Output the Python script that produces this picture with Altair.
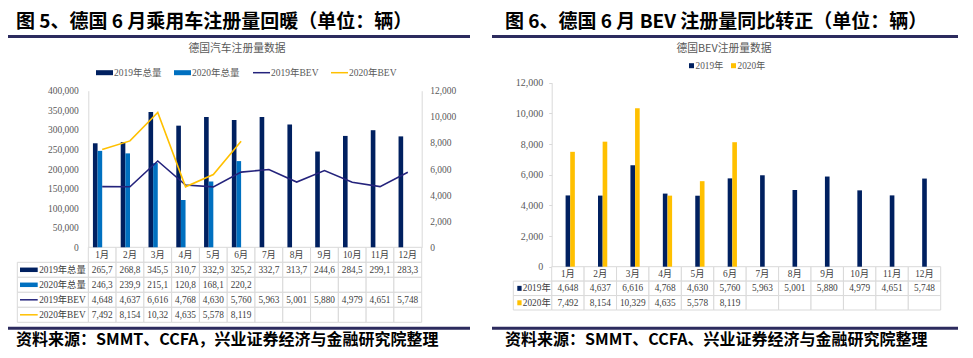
import altair as alt
import pandas as pd

# ---------------- data ----------------
months = [f"{i}月" for i in range(1, 13)]
total_2019 = [265700, 268800, 345500, 310700, 332900, 325200, 332700, 313700, 244600, 284500, 299100, 283300]
total_2020 = [246300, 239900, 215100, 120800, 168100, 220200]
bev_2019 = [4648, 4637, 6616, 4768, 4630, 5760, 5963, 5001, 5880, 4979, 4651, 5748]
bev_2020 = [7492, 8154, 10329, 4635, 5578, 8119]

left_series = ["2019年总量", "2020年总量", "2019年BEV", "2020年BEV"]
right_series = ["2019年", "2020年"]
left_ticks = list(range(0, 400001, 50000))
right_ticks = list(range(0, 12001, 2000))
bev_ticks = list(range(0, 12001, 2000))

title_left = "图 5、德国 6 月乘用车注册量回暖（单位：辆）"
title_right = "图 6、德国 6 月 BEV 注册量同比转正（单位：辆）"
sub_left = "德国汽车注册量数据"
sub_right = "德国BEV注册量数据"
src_left = "资料来源：SMMT、CCFA，兴业证券经济与金融研究院整理"
src_right = "资料来源：SMMT、CCFA、兴业证券经济与金融研究院整理"

# ---------------- style ----------------
W, H = 957, 342
NAVY = "#002060"
BLUE = "#0070C0"
LINE19 = "#24237C"
YELLOW = "#FFC000"
GRID = "#D9D9D9"
TXT = "#595959"
TAB = "#404040"
RULE = "#2C2B5E"
SERIF = "Liberation Serif, Noto Sans CJK SC"
CJK = "Noto Sans CJK SC"

one = pd.DataFrame({"a": [0]})


def txt(s, x, y, size, font=CJK, weight="normal", color="black", align="left"):
    return alt.Chart(one).mark_text(
        text=s, font=font, fontSize=size, fontWeight=weight, color=color,
        align=align, baseline="middle"
    ).encode(x=alt.value(x), y=alt.value(y))


def hrule(x1, x2, y, color, sw):
    return alt.Chart(one).mark_rule(color=color, strokeWidth=sw).encode(
        x=alt.value(x1), x2=alt.value(x2), y=alt.value(y))


def fmt(v):
    return f"{v:,}"


# ================= LEFT PANEL =================
LX = [80.3, 413.7]
LY = [239.3, 82.7]
lx = alt.Scale(domain=months, range=LX, paddingInner=0, paddingOuter=0)

bars_l = pd.DataFrame(
    [{"month": m, "series": "2019年总量", "value": v} for m, v in zip(months, total_2019)]
    + [{"month": m, "series": "2020年总量", "value": v} for m, v in zip(months, total_2020)]
)
lines_l = pd.DataFrame(
    [{"month": m, "series": "2019年BEV", "value": v} for m, v in zip(months, bev_2019)]
    + [{"month": m, "series": "2020年BEV", "value": v} for m, v in zip(months, bev_2020)]
)

axis_common = dict(grid=False, title=None, labelFont=SERIF, labelFontSize=9.5,
                   labelColor=TXT, domainColor=GRID, tickColor=GRID, format=",d")

l_bars = alt.Chart(bars_l).mark_bar().encode(
    x=alt.X("month:N", scale=lx, axis=None),
    xOffset=alt.XOffset("series:N", scale=alt.Scale(domain=left_series[:2], paddingInner=0, paddingOuter=1)),
    y=alt.Y("value:Q", scale=alt.Scale(domain=[0, 400000], range=LY, nice=False),
            axis=alt.Axis(orient="left", offset=-LX[0], values=left_ticks, ticks=False,
                          labelPadding=10, **axis_common)),
    color=alt.Color("series:N", scale=alt.Scale(domain=left_series[:2], range=[NAVY, BLUE]), legend=None),
)
l_lines = alt.Chart(lines_l).mark_line(strokeWidth=1.6).encode(
    x=alt.X("month:N", scale=lx, axis=None),
    y=alt.Y("value:Q", scale=alt.Scale(domain=[0, 12000], range=LY, nice=False),
            axis=alt.Axis(orient="right", offset=-(W - LX[1]), values=bev_ticks, ticks=False,
                          labelPadding=8, **axis_common)),
    color=alt.Color("series:N", scale=alt.Scale(domain=left_series[2:], range=[LINE19, YELLOW]), legend=None),
)
left_plot = alt.layer(l_bars, l_lines).resolve_scale(y="independent", color="independent")

# table
l_rows = ["cat"] + left_series
lrow = alt.Scale(domain=l_rows, range=[239.3, 314.3], paddingInner=0, paddingOuter=0)
cells_l = pd.DataFrame([{"month": m, "row": r} for m in months for r in l_rows])
vals_l = []
for i, m in enumerate(months):
    vals_l.append({"month": m, "row": "cat", "label": m})
    vals_l.append({"month": m, "row": "2019年总量", "label": fmt(total_2019[i])[:5]})
    if i < len(total_2020):
        vals_l.append({"month": m, "row": "2020年总量", "label": fmt(total_2020[i])[:5]})
    vals_l.append({"month": m, "row": "2019年BEV", "label": fmt(bev_2019[i])[:5]})
    if i < len(bev_2020):
        vals_l.append({"month": m, "row": "2020年BEV", "label": fmt(bev_2020[i])[:5]})
vals_l = pd.DataFrame(vals_l)
labels_l = pd.DataFrame({"row": left_series})

l_cells = alt.Chart(cells_l).mark_rect(fill="white", stroke=GRID, strokeWidth=1).encode(
    x=alt.X("month:N", scale=lx, axis=None), y=alt.Y("row:N", scale=lrow, axis=None))
l_lcells = alt.Chart(labels_l).mark_rect(fill="white", stroke=GRID, strokeWidth=1).encode(
    x=alt.value(9.3), x2=alt.value(LX[0]), y=alt.Y("row:N", scale=lrow, axis=None))
l_text = alt.Chart(vals_l).mark_text(font=SERIF, fontSize=9.3, color=TAB, baseline="middle").encode(
    x=alt.X("month:N", scale=lx, axis=None), y=alt.Y("row:N", scale=lrow, axis=None), text="label:N")
l_rlab = alt.Chart(labels_l).mark_text(font=SERIF, fontSize=9.3, color=TAB, align="right", baseline="middle").encode(
    x=alt.value(77.7), y=alt.Y("row:N", scale=lrow, axis=None), text="row:N")
l_syms = []
for s, c, sw in zip(left_series, [NAVY, BLUE, LINE19, YELLOW], [4.5, 4.5, 1.5, 1.5]):
    l_syms.append(alt.Chart(pd.DataFrame({"row": [s]})).mark_rule(color=c, strokeWidth=sw).encode(
        y=alt.Y("row:N", scale=lrow, axis=None, bandPosition=0.5), x=alt.value(12), x2=alt.value(29.7)))
left_table = alt.layer(l_cells, l_lcells, l_text, l_rlab, *l_syms)

left_group = alt.layer(left_table, left_plot).resolve_scale(y="independent", color="independent")

# ================= RIGHT PANEL =================
RX = [543.7, 932.7]
RY = [258.7, 74.7]
rx = alt.Scale(domain=months, range=RX, paddingInner=0, paddingOuter=0)
bars_r = pd.DataFrame(
    [{"month": m, "series": "2019年", "value": v} for m, v in zip(months, bev_2019)]
    + [{"month": m, "series": "2020年", "value": v} for m, v in zip(months, bev_2020)]
)
r_bars = alt.Chart(bars_r).mark_bar().encode(
    x=alt.X("month:N", scale=rx, axis=None),
    xOffset=alt.XOffset("series:N", scale=alt.Scale(domain=right_series, paddingInner=0, paddingOuter=1)),
    y=alt.Y("value:Q", scale=alt.Scale(domain=[0, 12000], range=RY, nice=False),
            axis=alt.Axis(orient="left", offset=-RX[0], values=right_ticks, ticks=True, tickSize=3,
                          labelPadding=6, **{**axis_common, "labelFontSize": 10})),
    color=alt.Color("series:N", scale=alt.Scale(domain=right_series, range=[NAVY, YELLOW]), legend=None),
)
r_rows = ["cat"] + right_series
rrow = alt.Scale(domain=r_rows, range=[258.7, 302.0], paddingInner=0, paddingOuter=0)
cells_r = pd.DataFrame([{"month": m, "row": r} for m in months for r in r_rows])
vals_r = []
for i, m in enumerate(months):
    vals_r.append({"month": m, "row": "cat", "label": m})
    vals_r.append({"month": m, "row": "2019年", "label": fmt(bev_2019[i])})
    if i < len(bev_2020):
        vals_r.append({"month": m, "row": "2020年", "label": fmt(bev_2020[i])})
vals_r = pd.DataFrame(vals_r)
labels_r = pd.DataFrame({"row": right_series})
r_cells = alt.Chart(cells_r).mark_rect(fill="white", stroke=GRID, strokeWidth=1).encode(
    x=alt.X("month:N", scale=rx, axis=None), y=alt.Y("row:N", scale=rrow, axis=None))
r_lcells = alt.Chart(labels_r).mark_rect(fill="white", stroke=GRID, strokeWidth=1).encode(
    x=alt.value(505.3), x2=alt.value(RX[0]), y=alt.Y("row:N", scale=rrow, axis=None))
r_text = alt.Chart(vals_r).mark_text(font=SERIF, fontSize=9.3, color=TAB, baseline="middle").encode(
    x=alt.X("month:N", scale=rx, axis=None), y=alt.Y("row:N", scale=rrow, axis=None), text="label:N")
r_rlab = alt.Chart(labels_r).mark_text(font=SERIF, fontSize=9.3, color=TAB, align="left", baseline="middle").encode(
    x=alt.value(514.8), y=alt.Y("row:N", scale=rrow, axis=None), text="row:N")
r_syms = []
for s, c in zip(right_series, [NAVY, YELLOW]):
    r_syms.append(alt.Chart(pd.DataFrame({"row": [s]})).mark_rule(color=c, strokeWidth=5).encode(
        y=alt.Y("row:N", scale=rrow, axis=None, bandPosition=0.5), x=alt.value(509.3), x2=alt.value(513.6)))
right_table = alt.layer(r_cells, r_lcells, r_text, r_rlab, *r_syms)
right_group = alt.layer(right_table, r_bars).resolve_scale(y="independent", color="independent")

# ================= DECORATIONS =================
deco = [
    txt(title_left, 8, 14, 19, weight="bold"),
    txt(title_right, 497, 14, 19, weight="bold"),
    hrule(0, 462, 28.5, RULE, 3),
    hrule(484, 950, 28.5, RULE, 3),
    txt(sub_left, 229, 41, 10.8, color=TXT, align="center"),
    txt(sub_right, 716, 41, 10.8, color=TXT, align="center"),
    hrule(0, 462, 320.3, RULE, 3),
    hrule(484, 950, 320.3, RULE, 3),
    txt(src_left, 8, 332, 16, weight="bold"),
    txt(src_right, 497, 332, 16, weight="bold"),
]
# left legend
leg_y = 64.7
for (x1, x2, tx), s, c, sw in zip(
        [(88, 105, 106), (166, 183, 184), (245, 262, 263), (323, 340, 341)],
        left_series, [NAVY, BLUE, LINE19, YELLOW], [5, 5, 1.5, 1.5]):
    deco.append(hrule(x1, x2, leg_y, c, sw))
    deco.append(txt(s, tx, leg_y, 9.5, font=SERIF, color=TXT))
# right legend
rleg_y = 57.7
for (x1, x2, tx), s, c in zip([(681, 686, 687.5), (723, 728, 729.5)], right_series, [NAVY, YELLOW]):
    deco.append(hrule(x1, x2, rleg_y, c, 5))
    deco.append(txt(s, tx, rleg_y, 9.3, font=SERIF, color=TXT))

chart = alt.layer(left_group, right_group, *deco).resolve_scale(
    x="independent", y="independent", color="independent"
).properties(
    width=W, height=H, autosize="none", padding=0, background="white"
).configure_view(stroke=None)

chart.save("out.html", embed_options={"renderer": "svg", "actions": False})
